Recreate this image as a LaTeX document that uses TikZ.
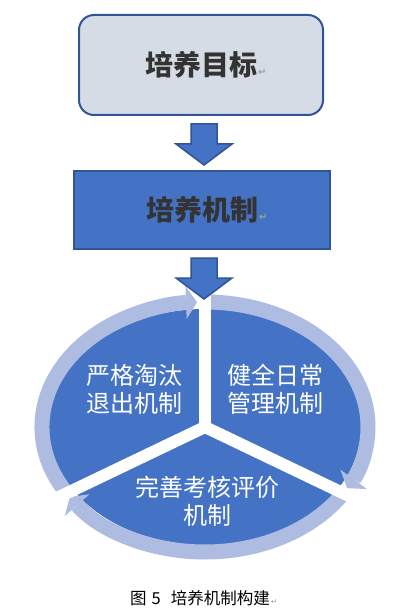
\documentclass[tikz,border=0pt]{standalone}
\usepackage{fontspec}
\newfontfamily\cjk{Noto Sans CJK SC}
\newfontfamily\symf{DejaVu Sans}
\usetikzlibrary{arrows.meta}
\definecolor{mainblue}{HTML}{4472C4}
\definecolor{edgeblue}{HTML}{2F5597}
\definecolor{lightbox}{HTML}{D6DCE5}
\definecolor{ringc}{HTML}{AEBCE2}
\definecolor{darktext}{HTML}{333333}
\definecolor{markgray}{HTML}{A0A0A0}
\newcommand{\retmark}[1]{\rlap{\hspace{1pt}\textcolor{markgray}{\symf\fontsize{#1}{#1}\selectfont ↵}}}
\begin{document}
\begin{tikzpicture}[x=1pt,y=1pt,
  topbox/.style={draw=edgeblue, line width=2pt, fill=lightbox, rounded corners=15pt,
    minimum width=244pt, minimum height=100pt, inner sep=0pt,
    font=\cjk\bfseries\fontsize{28}{30}\selectfont, text=darktext},
  midbox/.style={draw=edgeblue, line width=2pt, fill=mainblue,
    minimum width=256pt, minimum height=78pt, inner sep=0pt,
    font=\cjk\bfseries\fontsize{28}{30}\selectfont, text=darktext},
  blockarrow/.style={fill=mainblue, draw=edgeblue, line width=1.5pt, line join=miter},
  ringarrow/.style={draw=ringc, line width=15pt,
    -{Triangle[width=33pt,length=11pt,line width=0pt]}},
  divider/.style={draw=white, line width=12pt},
  segtext/.style={text=white, font=\cjk\fontsize{24}{28}\selectfont, align=center, inner sep=0pt},
  captext/.style={text=black, font=\cjk\fontsize{16.5}{18}\selectfont, inner sep=0pt}
]
\useasboundingbox (0,0) rectangle (413,-612);

% boxes
\node[topbox] (goal) at (201,-65) {培养目标\retmark{10}};
\node[midbox] (mech) at (202,-210) {培养机制\retmark{10}};

% arrow from goal to mechanism
\draw[blockarrow] (191,-124) -- (217,-124) -- (217,-144) -- (232,-144) -- (204,-165)
  -- (176,-144) -- (191,-144) -- cycle;

% cycle
\coordinate (C) at (205,-427);
\fill[mainblue] (C) ellipse [x radius=156, y radius=118];

\draw[ringarrow] ([shift={(212:163 and 125)}]C) arc[start angle=212, end angle=92.8, x radius=163, y radius=125];
\draw[ringarrow] ([shift={(90:163 and 125)}]C) arc[start angle=90, end angle=-29.3, x radius=163, y radius=125];
\draw[ringarrow] ([shift={(-32:163 and 125)}]C) arc[start angle=-32, end angle=-146, x radius=163, y radius=125];

\draw[divider] (C) -- ++(0,135);
\draw[divider] (C) -- ++(205.6:180);
\draw[divider] (C) -- ++(-25.6:180);

% arrow from mechanism to cycle
\draw[blockarrow] (191,-258) -- (217,-258) -- (217,-278) -- (232,-278) -- (204,-299)
  -- (176,-278) -- (191,-278) -- cycle;

\node[segtext] (s1) at (134,-389) {严格淘汰\\退出机制};
\node[segtext] (s2) at (275,-389) {健全日常\\管理机制};
\node[segtext] (s3) at (207,-501) {完善考核评价\\机制};

\node[captext] (cap) at (200,-598) {图\hspace{5pt}5\hspace{10pt}培养机制构建\retmark{8}};
\end{tikzpicture}
\end{document}
